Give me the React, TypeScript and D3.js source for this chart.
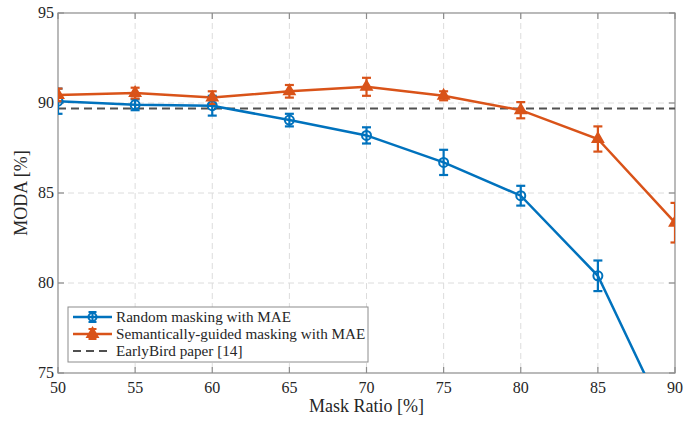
import React from 'react';
import * as d3 from 'd3';

const ratios = [50, 55, 60, 65, 70, 75, 80, 85, 90];
const randomMean = [90.1, 89.9, 89.85, 89.05, 88.2, 86.7, 84.85, 80.4, 71.4];
const randomErr = [0.7, 0.3, 0.55, 0.35, 0.45, 0.7, 0.55, 0.85, 0.9];
const guidedMean = [90.45, 90.55, 90.3, 90.65, 90.9, 90.4, 89.6, 88.0, 83.35];
const guidedErr = [0.35, 0.3, 0.35, 0.35, 0.5, 0.25, 0.45, 0.7, 1.1];
const earlyBird = 89.7;
const xTicks = [50, 55, 60, 65, 70, 75, 80, 85, 90];
const yTicks = [75, 80, 85, 90, 95];
const legendLabels = ['Random masking with MAE', 'Semantically-guided masking with MAE', 'EarlyBird paper [14]'];

const BLUE = '#0072BD';
const ORANGE = '#D95319';
const FONT = '"Liberation Serif", "DejaVu Serif", serif';

export default function App() {
  const width = 697;
  const height = 422;
  const left = 58, right = 675, top = 13, bottom = 373;

  const x = d3.scaleLinear().domain([50, 90]).range([left, right]);
  const y = d3.scaleLinear().domain([75, 95]).range([bottom, top]);

  const line = d3.line<number>().x((_, i) => x(ratios[i])).y(d => y(d));

  const tri = d3.symbol().type(d3.symbolTriangle).size(55)();

  const errorBars = (means: number[], errs: number[], color: string) =>
    means.map((m, i) => {
      const cx = x(ratios[i]);
      const cap = 4.5;
      return (
        <g key={i} stroke={color} strokeWidth={2.2}>
          <line x1={cx} x2={cx} y1={y(m - errs[i])} y2={y(m + errs[i])} />
          <line x1={cx - cap} x2={cx + cap} y1={y(m - errs[i])} y2={y(m - errs[i])} />
          <line x1={cx - cap} x2={cx + cap} y1={y(m + errs[i])} y2={y(m + errs[i])} />
        </g>
      );
    });

  return (
    <svg width={width} height={height} style={{ position: 'absolute', left: 0, top: 0 }} fontFamily={FONT}>
      <defs>
        <clipPath id="plot">
          <rect x={left} y={top} width={right - left} height={bottom - top} />
        </clipPath>
      </defs>
      <rect x={0} y={0} width={width} height={height} fill="#fff" />

      {/* grid */}
      <g stroke="#dcdcdc" strokeWidth={1} strokeDasharray="6,4">
        {xTicks.slice(1, -1).map(t => (
          <line key={'gx' + t} x1={x(t)} x2={x(t)} y1={top} y2={bottom} />
        ))}
        {yTicks.slice(1, -1).map(t => (
          <line key={'gy' + t} x1={left} x2={right} y1={y(t)} y2={y(t)} />
        ))}
      </g>

      {/* box + ticks */}
      <g stroke="#8c8c8c" strokeWidth={1.2} fill="none">
        <rect x={left} y={top} width={right - left} height={bottom - top} />
        {xTicks.map(t => (
          <g key={'tx' + t}>
            <line x1={x(t)} x2={x(t)} y1={bottom} y2={bottom - 6} />
            <line x1={x(t)} x2={x(t)} y1={top} y2={top + 6} />
          </g>
        ))}
        {yTicks.map(t => (
          <g key={'ty' + t}>
            <line x1={left} x2={left + 6} y1={y(t)} y2={y(t)} />
            <line x1={right} x2={right - 6} y1={y(t)} y2={y(t)} />
          </g>
        ))}
      </g>

      {/* tick labels */}
      <g fontSize={16} fill="#262626">
        {xTicks.map(t => (
          <text key={'lx' + t} x={x(t)} y={bottom + 20} textAnchor="middle">{t}</text>
        ))}
        {yTicks.map(t => (
          <text key={'ly' + t} x={left - 4} y={y(t) + 5} textAnchor="end">{t}</text>
        ))}
      </g>
      <text x={(left + right) / 2} y={412} textAnchor="middle" fontSize={18} fill="#262626">Mask Ratio [%]</text>
      <text transform={`translate(27,${(top + bottom) / 2}) rotate(-90)`} textAnchor="middle" fontSize={18} fill="#262626">MODA [%]</text>

      {/* EarlyBird */}
      <line x1={left} x2={right} y1={y(earlyBird)} y2={y(earlyBird)} stroke="#505050" strokeWidth={2} strokeDasharray="8,5" />

      <g clipPath="url(#plot)">
        <path d={line(randomMean) || ''} fill="none" stroke={BLUE} strokeWidth={2.5} />
        <path d={line(guidedMean) || ''} fill="none" stroke={ORANGE} strokeWidth={2.5} />
        {errorBars(randomMean, randomErr, BLUE)}
        {errorBars(guidedMean, guidedErr, ORANGE)}
        {randomMean.map((m, i) => (
          <circle key={'c' + i} cx={x(ratios[i])} cy={y(m)} r={4.5} fill="none" stroke={BLUE} strokeWidth={2} />
        ))}
        {guidedMean.map((m, i) => (
          <path key={'t' + i} d={tri || ''} transform={`translate(${x(ratios[i])},${y(m)})`} fill={ORANGE} stroke={ORANGE} strokeWidth={1.5} />
        ))}
      </g>

      {/* legend */}
      <g>
        <rect x={68} y={307} width={300} height={55} fill="#fff" stroke="#8c8c8c" strokeWidth={1} />
        {legendLabels.map((lab, i) => {
          const ly = 317 + i * 17;
          const color = i === 0 ? BLUE : i === 1 ? ORANGE : '#505050';
          return (
            <g key={lab}>
              {i < 2 ? (
                <g stroke={color} strokeWidth={2.5}>
                  <line x1={73} x2={112} y1={ly} y2={ly} />
                  <line x1={92.5} x2={92.5} y1={ly - 5} y2={ly + 5} strokeWidth={2} />
                  <line x1={88.5} x2={96.5} y1={ly - 5} y2={ly - 5} strokeWidth={2} />
                  <line x1={88.5} x2={96.5} y1={ly + 5} y2={ly + 5} strokeWidth={2} />
                  {i === 0 ? (
                    <circle cx={92.5} cy={ly} r={4} fill="none" strokeWidth={2} />
                  ) : (
                    <path d={tri || ''} transform={`translate(92.5,${ly})`} fill={color} strokeWidth={1.5} />
                  )}
                </g>
              ) : (
                <line x1={73} x2={112} y1={ly} y2={ly} stroke={color} strokeWidth={2} strokeDasharray="8,5" />
              )}
              <text x={116} y={ly + 5} fontSize={15.2} fill="#262626">{lab}</text>
            </g>
          );
        })}
      </g>
    </svg>
  );
}
